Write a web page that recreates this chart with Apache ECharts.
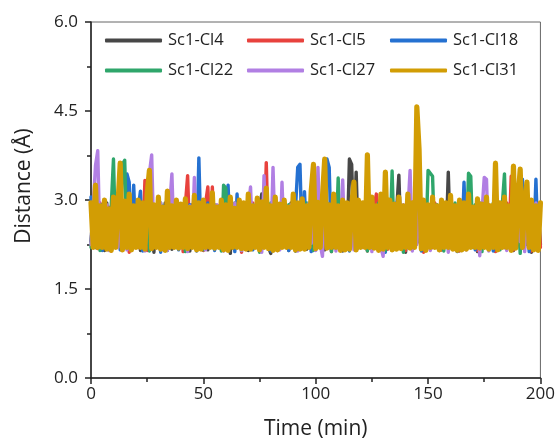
<!DOCTYPE html>
<html>
<head>
<meta charset="utf-8">
<script src="https://cdn.jsdelivr.net/npm/echarts@6/dist/echarts.min.js"></script>
<style>html,body{margin:0;padding:0;background:#fff}#c{width:558px;height:445px}</style>
</head>
<body>
<div id="c"></div>
<script>
// Time axis (min), one sample per minute
const times = [];
for (let t = 0; t <= 200; t++) times.push(t);

const seriesNames = ["Sc1-Cl4", "Sc1-Cl5", "Sc1-Cl18", "Sc1-Cl22", "Sc1-Cl27", "Sc1-Cl31"];
const yTicks = [0, 1.5, 3.0, 4.5, 6.0];
const xTicks = [0, 50, 100, 150, 200];

const cl4 = [
2.3,2.85,2.2,2.9,2.25,2.8,2.15,2.95,2.3,2.82,2.2,2.9,2.27,2.85,2.18,2.9,2.3,2.8,2.22,2.88,
2.25,2.9,2.15,2.85,2.3,2.92,2.2,2.8,2.12,2.9,2.26,2.85,2.2,2.95,2.28,2.8,2.17,2.9,2.25,2.86,
2.2,2.9,2.3,2.83,2.14,2.92,2.25,2.85,2.2,2.9,2.28,2.8,2.16,2.95,2.25,2.86,2.2,2.9,2.3,2.82,
2.18,2.9,2.1,2.85,2.27,2.92,2.2,2.8,2.25,2.9,2.15,2.86,2.3,2.9,2.2,2.85,3.1,2.25,2.9,2.2,
2.1,2.88,2.26,2.92,2.2,2.85,2.3,2.8,2.15,2.95,2.25,2.86,2.2,2.9,2.28,2.83,2.17,2.9,2.24,2.85,
2.2,2.9,2.3,2.82,2.16,2.95,2.25,2.86,2.2,2.9,2.27,2.85,2.14,2.92,2.25,3.69,3.6,2.3,3.47,2.2,
2.85,2.25,2.9,2.18,2.86,2.3,2.92,2.2,2.8,2.26,2.9,2.15,2.85,2.28,2.95,2.2,2.82,3.42,2.25,2.9,
2.12,2.86,2.27,2.9,2.2,2.85,2.3,2.8,2.17,2.92,2.25,2.86,2.2,2.9,2.28,2.83,2.16,2.95,2.25,3.47,
2.2,2.9,2.3,2.85,2.15,2.92,2.26,2.8,2.2,2.9,2.28,2.86,2.13,2.95,2.25,2.85,2.2,2.9,2.3,2.82,
2.18,2.9,2.25,2.86,2.2,2.92,2.27,2.8,2.15,2.9,2.3,2.85,2.2,2.95,2.25,2.86,2.12,2.9,2.28,2.85,
2.25];

const cl5 = [
2.85,2.25,2.9,2.18,2.95,2.3,2.8,2.2,2.88,2.14,2.9,2.26,2.85,2.2,2.92,2.3,2.82,2.12,2.9,2.25,
2.86,2.2,2.9,2.28,3.33,2.15,2.95,2.25,2.85,2.2,2.9,2.3,2.8,2.17,2.92,2.25,2.86,2.2,2.9,2.27,
2.85,2.13,2.92,3.41,2.25,2.8,2.2,2.9,2.3,2.86,2.15,2.95,3.22,2.26,3.22,2.2,2.9,2.28,2.82,2.16,
2.9,2.25,2.86,2.2,2.92,2.3,2.8,2.12,2.9,2.25,2.85,2.2,2.95,2.28,2.82,2.17,2.9,2.25,3.63,2.2,
2.86,2.3,2.9,2.15,2.85,2.26,2.92,2.2,2.8,2.28,2.9,2.14,2.86,2.25,2.95,2.2,2.85,2.3,2.9,2.16,
2.82,2.25,2.9,2.2,2.86,2.27,2.92,2.13,2.85,2.25,2.9,2.2,2.8,2.3,2.95,2.16,2.86,2.25,2.9,2.2,
2.85,2.28,2.92,2.14,2.8,2.25,2.9,3.1,2.2,2.86,2.3,2.9,2.17,2.95,2.25,2.85,2.2,2.9,2.27,2.82,
2.15,2.9,2.25,2.86,2.2,2.92,2.3,2.8,2.12,2.9,2.26,2.85,2.2,2.95,2.28,2.82,2.16,2.9,2.25,2.86,
2.2,2.92,2.3,2.8,2.14,2.9,2.25,2.85,2.2,2.95,2.27,2.82,2.15,2.9,2.25,2.86,2.2,2.92,2.3,2.8,
2.13,2.9,2.26,2.85,2.2,2.95,2.28,3.4,2.16,2.9,2.25,2.86,2.2,2.92,2.3,2.8,2.14,2.9,2.25,2.85,
2.2];

const cl18 = [
3.05,2.2,2.9,2.27,2.85,2.15,2.92,2.25,2.86,2.2,2.9,2.3,2.82,2.16,2.95,2.25,3.44,3.3,2.2,3.25,
2.28,2.85,3.15,2.14,2.9,2.25,2.86,2.2,2.92,2.3,2.8,2.12,2.9,2.26,2.85,2.2,2.95,2.28,2.82,2.16,
2.9,2.25,2.86,2.2,2.92,2.3,2.8,2.14,3.71,2.25,2.85,2.2,2.95,2.27,2.82,2.15,2.9,2.25,2.86,2.2,
2.92,3.25,2.3,2.8,2.13,3.1,2.26,2.85,2.2,2.95,2.28,2.82,2.16,2.9,2.25,2.86,2.2,2.92,2.3,2.8,
2.14,2.9,2.25,2.85,2.2,2.95,2.27,2.82,2.15,2.9,2.25,2.86,3.55,3.6,2.2,3.14,2.3,2.8,2.13,2.9,
2.26,2.85,2.2,2.95,2.28,3.69,3.55,2.16,2.9,2.25,2.86,2.2,2.92,2.3,2.8,2.14,2.9,2.25,2.85,2.2,
2.95,2.27,2.82,2.15,2.9,2.25,2.86,2.2,2.92,2.3,2.8,2.12,2.9,2.26,2.85,2.2,2.95,2.28,2.82,2.16,
2.9,2.25,2.86,2.2,2.92,2.3,2.8,2.14,2.9,2.25,2.85,2.2,2.95,2.27,2.82,2.15,2.9,2.25,2.86,2.2,
2.92,2.3,2.8,2.13,2.9,2.26,3.3,2.2,2.95,2.28,2.82,2.16,2.9,2.25,2.86,2.2,2.92,2.3,2.8,2.14,
2.9,2.25,2.85,2.2,2.95,2.27,2.82,2.15,2.9,2.25,2.86,2.2,3.35,2.3,2.8,2.13,2.9,2.26,3.35,2.2,
2.95];

const cl22 = [
2.2,2.9,2.25,2.86,2.15,2.92,2.3,2.8,2.2,2.9,3.69,2.25,2.85,2.2,3.6,3.67,2.28,2.82,2.16,2.9,
2.25,2.86,2.2,2.92,2.3,2.8,2.14,2.9,2.25,2.85,2.2,2.95,2.27,2.82,2.15,2.9,2.25,2.86,2.2,2.92,
2.3,2.8,2.13,2.9,2.26,2.85,2.2,2.95,2.28,2.82,2.16,2.9,2.25,2.86,2.2,2.92,2.3,2.8,2.14,3.25,
3.2,2.25,2.85,2.2,2.95,2.27,2.82,2.15,2.9,2.25,2.86,2.2,2.92,2.3,2.8,2.12,2.9,2.26,2.85,2.2,
2.95,2.28,2.82,2.16,2.9,2.25,2.86,2.2,2.92,2.3,2.8,2.14,2.9,2.25,2.85,2.2,2.95,2.27,2.82,2.15,
2.9,2.25,2.86,2.2,2.92,2.3,2.8,2.13,2.9,2.26,3.37,2.2,2.95,2.28,2.82,2.16,2.9,2.25,2.86,2.2,
2.92,2.3,2.8,2.14,2.9,2.25,2.85,2.2,2.95,2.27,2.82,2.15,2.9,2.25,3.49,2.2,2.92,2.3,2.8,2.12,
2.9,2.26,2.85,2.2,2.95,2.28,2.82,2.16,2.9,2.25,3.5,3.45,3.4,2.2,2.92,2.3,2.8,2.14,2.9,2.25,
2.85,2.2,2.95,2.27,2.82,2.15,2.9,2.25,3.45,3.4,2.2,2.92,2.3,2.8,2.13,2.9,2.26,2.85,2.2,2.95,
2.28,2.82,2.16,2.9,3.44,2.25,2.86,2.2,2.92,2.3,2.8,2.1,2.9,2.25,2.85,2.2,2.95,2.27,2.82,2.15,
2.9];

const cl27 = [
2.25,2.9,3.58,3.83,2.2,2.86,2.3,2.92,2.15,2.8,2.25,2.9,2.2,2.85,2.28,2.95,2.16,2.82,2.25,2.9,
2.2,2.86,2.3,2.92,2.14,2.8,3.45,3.76,2.25,2.85,2.2,2.95,2.27,2.82,2.15,2.9,3.44,2.25,2.86,2.2,
2.92,2.3,2.8,2.13,2.9,2.26,3.38,2.2,2.95,2.28,2.82,2.16,2.9,2.25,2.86,2.2,2.92,2.3,2.8,2.14,
2.9,2.25,2.85,2.2,2.95,2.27,2.82,2.15,2.9,2.25,2.86,3.22,2.2,2.92,2.3,2.8,2.12,3.41,2.26,2.85,
2.2,3.55,2.28,2.82,2.16,3.3,2.25,2.86,2.2,2.92,2.3,2.8,2.14,2.9,2.25,2.85,2.2,2.95,2.27,2.82,
2.15,3.55,2.25,2.05,2.9,2.2,2.92,2.3,2.8,2.14,2.9,2.25,3.34,2.2,2.95,2.28,2.82,2.16,2.9,2.25,
2.86,2.2,2.92,2.3,2.8,2.13,2.9,2.26,2.85,2.2,2.05,2.95,2.28,2.82,2.16,2.9,2.25,2.86,2.2,2.92,
2.3,2.8,3.5,2.14,2.9,2.25,2.85,2.2,2.95,2.27,2.82,2.15,2.9,2.25,2.86,2.2,2.92,2.3,2.8,2.12,
2.9,2.26,2.85,2.2,2.95,2.28,2.82,2.16,2.9,2.25,2.86,2.2,2.92,2.06,2.8,3.38,3.35,2.14,2.9,2.25,
2.85,2.2,2.95,2.27,2.82,2.15,2.9,2.25,2.86,2.2,2.92,2.3,2.8,2.13,2.9,2.26,2.85,2.2,2.95,2.28,
2.82];

const cl31 = [
2.95,2.2,3.25,2.2,2.9,2.2,3.0,2.17,2.85,2.15,3.05,2.2,2.92,3.62,2.16,2.98,2.2,3.1,2.16,2.9,
2.2,3.0,2.2,2.95,2.17,3.1,3.5,2.18,2.92,2.2,3.05,2.17,2.88,2.15,3.15,2.2,2.9,2.2,3.0,2.19,
2.93,2.2,3.02,2.18,2.87,2.2,3.08,2.16,2.95,2.17,3.0,2.2,2.9,2.2,3.12,2.19,2.88,2.2,3.0,2.16,
2.92,2.15,3.05,2.2,2.86,2.2,3.0,2.18,2.95,2.17,3.1,2.17,2.9,2.2,3.03,2.16,2.97,2.2,3.2,2.18,
2.9,2.15,3.05,2.16,2.93,2.2,3.0,2.2,2.88,2.2,3.1,2.16,2.95,2.17,3.02,2.17,2.9,2.2,3.15,3.6,
2.18,2.96,2.2,3.05,3.69,2.19,2.92,2.2,3.1,2.2,2.9,2.15,3.0,2.16,2.95,2.17,2.9,3.3,2.16,3.0,
2.2,2.95,2.2,3.76,2.2,3.05,2.19,2.9,2.15,3.1,2.17,3.47,2.2,3.0,2.16,2.93,2.17,3.05,2.18,2.9,
2.2,3.1,2.19,2.95,2.2,4.57,3.85,2.18,3.0,2.15,2.92,2.2,3.05,2.2,2.9,2.16,3.0,2.2,2.95,2.2,
3.08,2.17,2.9,2.15,3.0,2.16,2.95,2.17,3.1,2.2,2.88,2.2,3.02,2.19,2.93,2.2,3.05,2.17,2.9,2.2,
3.62,2.16,2.95,2.2,3.05,2.2,2.9,2.15,3.57,2.19,3.0,3.52,2.2,2.95,3.3,2.2,3.0,2.16,2.9,2.15,
2.95];

const seriesValues = [cl4, cl5, cl18, cl22, cl27, cl31];
const colors = ["#474747", "#e8423d", "#2571d1", "#2fa66b", "#b17fe3", "#d29d04"];
const widths = [3.4, 3.4, 3.4, 3.4, 3.4, 5.2];

const FONT = "Open Sans";
const chart = echarts.init(document.getElementById('c'), null, {renderer: 'canvas'});

const legendPos = [
  {left: 105, top: 32}, {left: 247, top: 32}, {left: 390, top: 32},
  {left: 105, top: 62}, {left: 247, top: 62}, {left: 390, top: 62}
];

const option = {
  animation: false,
  backgroundColor: '#fff',
  grid: {left: 91, right: 16, top: 22, bottom: 61, show: true, borderColor: '#666', borderWidth: 1, backgroundColor: 'transparent'},
  legend: seriesNames.map((n, i) => ({
    data: [n], left: legendPos[i].left, top: legendPos[i].top,
    itemWidth: 57, itemHeight: 4, itemGap: 6, icon: 'roundRect', padding: 0,
    itemStyle: {color: colors[i], borderWidth: 0},
    lineStyle: {width: 4, color: colors[i], cap: 'round'},
    textStyle: {fontFamily: FONT, fontSize: 16.5, color: '#222', padding: [0, 0, 0, 1]}
  })),
  xAxis: {
    type: 'value', min: xTicks[0], max: xTicks[xTicks.length - 1], interval: 50,
    name: 'Time (min)', nameLocation: 'middle', nameGap: 41,
    nameTextStyle: {fontFamily: FONT, fontSize: 21, color: '#222'},
    axisLine: {show: true, onZero: false, lineStyle: {color: '#222', width: 1.5}},
    axisTick: {show: true, inside: false, length: 6, lineStyle: {color: '#222', width: 1.5}},
    minorTick: {show: true, splitNumber: 2, length: 4, lineStyle: {color: '#222', width: 1.5}},
    axisLabel: {fontFamily: FONT, fontSize: 17, color: '#222', margin: 8},
    splitLine: {show: false}
  },
  yAxis: {
    type: 'value', min: yTicks[0], max: yTicks[yTicks.length - 1], interval: 1.5,
    name: 'Distance (Å)', nameLocation: 'middle', nameGap: 56, nameRotate: 90,
    nameTextStyle: {fontFamily: FONT, fontSize: 21, color: '#222', padding: [0, 0, 0, 28]},
    axisLine: {show: true, onZero: false, lineStyle: {color: '#222', width: 1.5}},
    axisTick: {show: true, inside: false, length: 6, lineStyle: {color: '#222', width: 1.5}},
    minorTick: {show: true, splitNumber: 2, length: 4, lineStyle: {color: '#222', width: 1.5}},
    axisLabel: {fontFamily: FONT, fontSize: 17, color: '#222', margin: 13, formatter: v => v.toFixed(1)},
    splitLine: {show: false}
  },
  series: seriesNames.map((n, i) => ({
    name: n, type: 'line', symbol: 'none', showSymbol: false,
    data: times.map((t, k) => [t, seriesValues[i][k]]),
    lineStyle: {color: colors[i], width: widths[i], cap: 'round', join: 'round'},
    itemStyle: {color: colors[i]},
    z: 2 + i, clip: true
  }))
};
chart.setOption(option);
</script>
</body>
</html>
